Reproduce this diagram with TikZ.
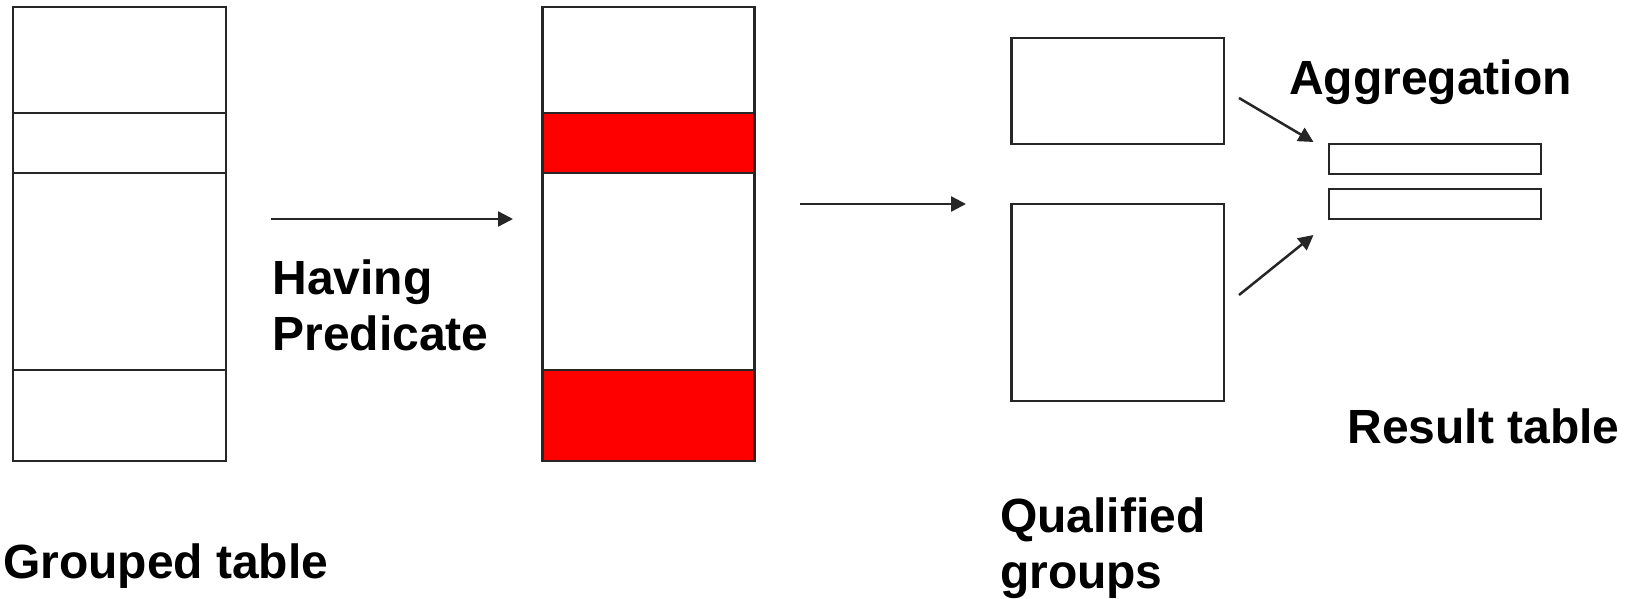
\documentclass[tikz,border=0pt]{standalone}
\usepackage{fontspec}
\setmainfont{Liberation Sans}
\usetikzlibrary{arrows.meta}
\definecolor{ink}{HTML}{262626}
\definecolor{hl}{HTML}{FF0000}
\tikzset{
  cell/.style={draw=ink, line width=2.5pt, inner sep=0pt, outer sep=0pt},
  lbl/.style={inner sep=0pt, outer sep=0pt, anchor=base west, align=left,
    font=\fontsize{48}{56}\selectfont\bfseries},
  conn/.style={draw=ink, line width=2.5pt, -{Triangle[length=15pt,width=15pt]}}
}
\begin{document}
\begin{tikzpicture}[x=1pt,y=-1pt]
\useasboundingbox (0,0) rectangle (1632,599);
% grouped table
\node[cell, minimum width=213pt, minimum height=106pt] (g1) at (119.5,60) {};
\node[cell, minimum width=213pt, minimum height=60pt] (g2) at (119.5,143) {};
\node[cell, minimum width=213pt, minimum height=197pt] (g3) at (119.5,271.5) {};
\node[cell, minimum width=213pt, minimum height=91pt] (g4) at (119.5,415.5) {};
% filtered table
\node[cell, minimum width=212pt, minimum height=106pt] (h1) at (648.5,60) {};
\node[cell, fill=hl, minimum width=212pt, minimum height=60pt] (h2) at (648.5,143) {};
\node[cell, minimum width=212pt, minimum height=197pt] (h3) at (648.5,271.5) {};
\node[cell, fill=hl, minimum width=212pt, minimum height=91pt] (h4) at (648.5,415.5) {};
% qualified groups
\node[cell, minimum width=212.5pt, minimum height=106pt] (q1) at (1117.75,91) {};
\node[cell, minimum width=212.5pt, minimum height=197pt] (q2) at (1117.75,302.5) {};
% result table
\node[cell, minimum width=212pt, minimum height=30pt] (r1) at (1435,159) {};
\node[cell, minimum width=212pt, minimum height=30pt] (r2) at (1435,204) {};
% connector end points
\coordinate (a1s) at (271,219);
\coordinate (a1e) at (513,219);
\coordinate (a2s) at (800,204);
\coordinate (a2e) at (966,204);
\coordinate (a3s) at (1239,98);
\coordinate (a3e) at (1313.5,142);
\coordinate (a4s) at (1239,295);
\coordinate (a4e) at (1313.5,235);
\draw[conn] (a1s) -- (a1e);
\draw[conn] (a2s) -- (a2e);
\draw[conn] (a3s) -- (a3e);
\draw[conn] (a4s) -- (a4e);
% labels (base anchor = last line baseline)
\node[lbl] (having) at (272.5,350) {Having\\Predicate};
\node[lbl] (agg) at (1289,95) {Aggregation};
\node[lbl] (res) at (1347.5,443) {Result table};
\node[lbl] (grp) at (3,578) {Grouped table};
\node[lbl] (qual) at (1000,588) {Qualified\\groups};
\end{tikzpicture}
\end{document}
